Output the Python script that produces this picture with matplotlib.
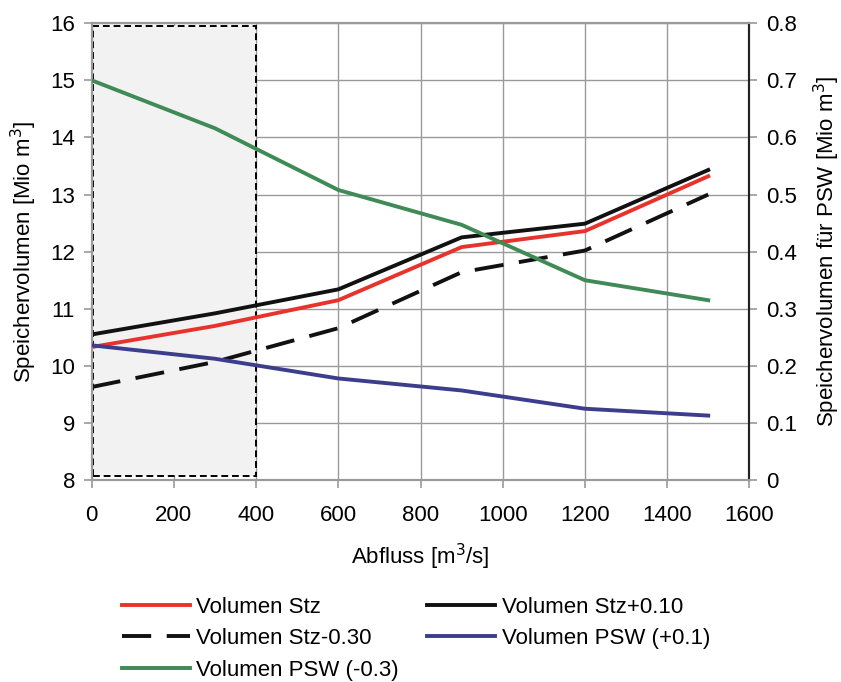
import numpy as np
import matplotlib
matplotlib.use("Agg")
import matplotlib.pyplot as plt
from matplotlib.patches import Rectangle
from matplotlib.ticker import FixedLocator, FuncFormatter

plt.rcParams['font.family'] = ['Liberation Sans', 'DejaVu Sans']

# --- data -------------------------------------------------------------
abfluss = [0, 300, 600, 900, 1200, 1500]
vol_stz = [10.33, 10.70, 11.15, 12.08, 12.36, 13.32]
vol_stz_p010 = [10.55, 10.92, 11.34, 12.25, 12.49, 13.43]
vol_stz_m030 = [9.63, 10.07, 10.66, 11.64, 12.02, 13.00]
# PSW values on the right axis [Mio m3]
vol_psw_p01 = [0.236, 0.2125, 0.178, 0.157, 0.125, 0.113]
vol_psw_m03 = [0.700, 0.616, 0.508, 0.447, 0.350, 0.315]

xticks = [0, 200, 400, 600, 800, 1000, 1200, 1400, 1600]
yticks_left = [8, 9, 10, 11, 12, 13, 14, 15, 16]
yticks_right = [0, 0.1, 0.2, 0.3, 0.4, 0.5, 0.6, 0.7, 0.8]

red = '#e8332c'
black = '#111111'
blue = '#3d3d8e'
green = '#3f8a56'
grid_c = '#9a9a9a'
fs = 16

fig = plt.figure(figsize=(8.41, 6.82), dpi=100)
ax = fig.add_axes([0.109, 0.296, 0.782, 0.670])
ax2 = ax.twinx()

# shaded region
ax.add_patch(Rectangle((4, 8.08), 396, 7.87, facecolor='#f2f2f2',
                       edgecolor='black', linestyle=(0, (3.5, 2)), linewidth=1.4, zorder=1))

ax.set_xlim(0, 1600)
ax.set_ylim(8, 16)
ax2.set_ylim(0, 0.8)
ax.set_xticks(xticks)
ax.set_yticks(yticks_left)
ax2.yaxis.set_major_locator(FixedLocator(yticks_right))
ax2.yaxis.set_major_formatter(FuncFormatter(lambda v, p: '0' if v == 0 else '%.1f' % v))

ax.grid(True, color=grid_c, linewidth=1.0, zorder=0)
ax.set_axisbelow(True)

lw = 2.8
dash = (7.5, 4)
l1, = ax.plot(abfluss, vol_stz, color=red, lw=lw, label='Volumen Stz', zorder=4)
l2, = ax.plot(abfluss, vol_stz_p010, color=black, lw=lw, label='Volumen Stz+0.10', zorder=3)
l3, = ax.plot(abfluss, vol_stz_m030, color=black, lw=lw, dashes=dash,
              label='Volumen Stz-0.30', zorder=3)
l4, = ax2.plot(abfluss, vol_psw_p01, color=blue, lw=lw, label='Volumen PSW (+0.1)', zorder=3)
l5, = ax2.plot(abfluss, vol_psw_m03, color=green, lw=lw, label='Volumen PSW (-0.3)', zorder=3)

for a in (ax, ax2):
    for s in ('top', 'left', 'bottom'):
        a.spines[s].set_color(grid_c)
        a.spines[s].set_linewidth(1.5)
    a.spines['right'].set_color('#222222')
    a.spines['right'].set_linewidth(1.5)
    a.tick_params(labelsize=fs, length=6, color=grid_c, width=1.2)
ax.tick_params(axis='x', pad=12)
ax.tick_params(axis='y', pad=6)
ax2.tick_params(axis='y', pad=6)

ax.set_xlabel('Abfluss [m$^3$/s]', fontsize=fs, labelpad=11)
ax.set_ylabel('Speichervolumen [Mio m$^3$]', fontsize=fs, labelpad=8)
ax2.set_ylabel('Speichervolumen für PSW [Mio m$^3$]', fontsize=fs, labelpad=11)

leg_kw = dict(loc='upper left', ncol=1, frameon=False, fontsize=fs,
              handlelength=3.05, handletextpad=0.3, labelspacing=0.47,
              borderpad=0, borderaxespad=0)
col1 = [l1, l3, l5]
col2 = [l2, l4]
fig.legend(col1, [h.get_label() for h in col1], bbox_to_anchor=(0.145, 0.125), **leg_kw)
fig.legend(col2, [h.get_label() for h in col2], bbox_to_anchor=(0.508, 0.125), **leg_kw)

fig.savefig('out.png', dpi=100)
